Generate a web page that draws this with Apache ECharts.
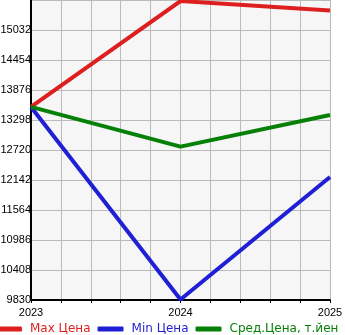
<!DOCTYPE html>
<html>
<head>
<meta charset="utf-8">
<script src="https://cdn.jsdelivr.net/npm/echarts@6/dist/echarts.min.js"></script>
<style>html,body{margin:0;padding:0;background:#fff}#c{width:345px;height:335px}</style>
</head>
<body>
<div id="c"></div>
<script>
const years = [2023, 2024, 2025];
const maxPrice = [13550, 15590, 15410];
const minPrice = [13550, 9840, 12200];
const avgPrice = [13550, 12785, 13395];
const seriesNames = ['Max Цена', 'Min Цена', 'Сред.Цена, т.йен'];
const colors = ['#dd1f1f', '#1f1fd6', '#078007'];
const yMin = 9830, yMax = 15610, yStep = 578;

const pairs = arr => years.map((y, i) => [y, arr[i]]);
const chart = echarts.init(document.getElementById('c'), null, {renderer: 'canvas'});
const axisFont = 'Liberation Sans, Arial, sans-serif';
const legendFont = 'DejaVu Sans, sans-serif';
chart.setOption({
  animation: false,
  color: colors,
  grid: {left: 31, right: 15, top: 0, bottom: 35, show: true, backgroundColor: '#f6f6f6', borderWidth: 0,
         outerBoundsMode: 'none', containLabel: false},
  legend: {
    left: -4, top: 323, padding: 0, itemWidth: 26, itemHeight: 5, itemGap: 7,
    icon: 'roundRect',
    data: seriesNames.map((n, i) => ({name: n, textStyle: {color: colors[i]}})),
    textStyle: {fontSize: 12, fontFamily: legendFont, padding: [0, 0, 0, 3]}
  },
  xAxis: {
    type: 'value', min: 2023, max: 2025, interval: 0.2,
    axisLine: {show: true, lineStyle: {color: '#000', width: 2}},
    axisTick: {show: true, length: 3, lineStyle: {color: '#000'}},
    splitLine: {show: true, lineStyle: {color: '#bbb', width: 1}},
    axisLabel: {
      margin: 7, fontSize: 11, fontFamily: axisFont, color: '#000',
      formatter: v => Math.abs(v - Math.round(v)) < 1e-6 ? String(Math.round(v)) : ''
    }
  },
  yAxis: {
    type: 'value', min: yMin, max: yMax, interval: yStep,
    axisLine: {show: true, lineStyle: {color: '#000', width: 2}},
    axisTick: {show: false},
    splitLine: {show: true, lineStyle: {color: '#bbb', width: 1}},
    axisLabel: {
      margin: 0, fontSize: 11, fontFamily: axisFont, color: '#000',
      showMaxLabel: false, padding: [0, 0, 7, 0],
      formatter: v => String(Math.round(v))
    }
  },
  series: [
    {name: seriesNames[0], type: 'line', data: pairs(maxPrice), symbol: 'none', lineStyle: {width: 4}},
    {name: seriesNames[1], type: 'line', data: pairs(minPrice), symbol: 'none', lineStyle: {width: 4}},
    {name: seriesNames[2], type: 'line', data: pairs(avgPrice), symbol: 'none', lineStyle: {width: 4}}
  ]
});
</script>
</body>
</html>
